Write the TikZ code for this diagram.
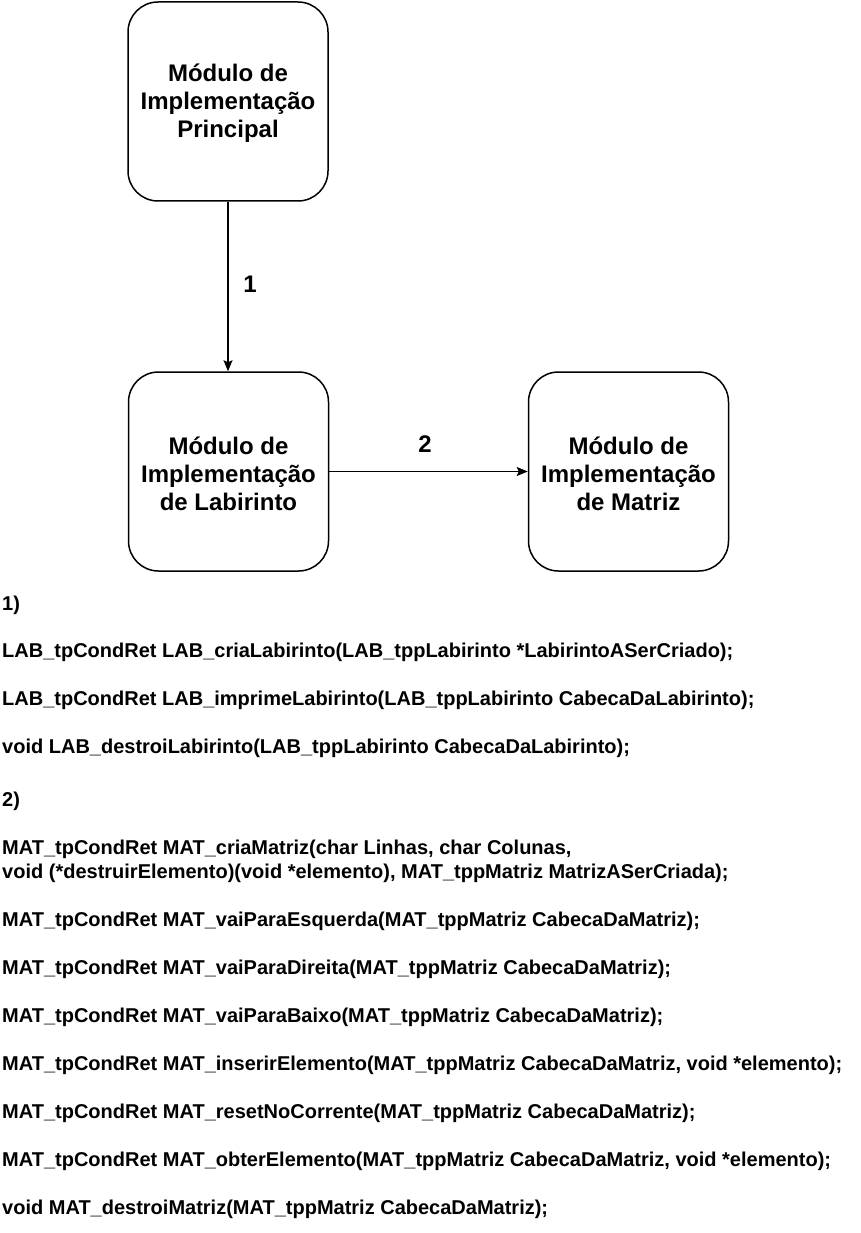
\documentclass[tikz,border=0pt]{standalone}
\usepackage{fontspec}
\setmainfont{Liberation Sans}
\usetikzlibrary{arrows.meta}
\begin{document}
\begin{tikzpicture}[x=1pt,y=-1pt,
  modbox/.style={draw=black, line width=1.5pt, rounded corners=30pt, minimum width=200pt, minimum height=199pt, inner sep=0pt},
  boxtext/.style={inner sep=0pt, align=center, font=\bfseries\fontsize{24}{28}\selectfont},
  conn/.style={line width=1.5pt, -{Stealth[length=11pt,width=9pt,inset=2pt]}},
  lbl/.style={font=\bfseries\fontsize{24}{28}\selectfont, inner sep=0pt},
  codeline/.style={anchor=base west, inner sep=0pt, font=\bfseries\fontsize{20}{24}\selectfont}
]
\useasboundingbox (0,0) rectangle (861,1233);
\node[modbox] (principal) at (228,101.5) {};
\node[modbox] (labirinto) at (228.5,471.5) {};
\node[modbox] (matriz) at (628.5,471.5) {};
\node[boxtext] (principaltxt) at ([yshift=-2pt]principal.center) {Módulo de\\Implementação\\Principal};
\node[boxtext] (labirintotxt) at ([yshift=-2pt]labirinto.center) {Módulo de\\Implementação\\de Labirinto};
\node[boxtext] (matriztxt) at ([yshift=-2pt]matriz.center) {Módulo de\\Implementação\\de Matriz};
\draw[conn] (principal.south) -- (principal.south |- labirinto.north);
\draw[conn] (labirinto.east) -- (matriz.west);
\node[lbl] (l1) at (250,284) {1};
\node[lbl] (l2) at (425,444) {2};

\node[codeline] (t1) at (2,610) {1)};
\node[codeline] (t2) at (2,657) {LAB\_tpCondRet LAB\_criaLabirinto(LAB\_tppLabirinto *LabirintoASerCriado);};
\node[codeline] (t3) at (2,705) {LAB\_tpCondRet LAB\_imprimeLabirinto(LAB\_tppLabirinto CabecaDaLabirinto);};
\node[codeline] (t4) at (2,753) {void LAB\_destroiLabirinto(LAB\_tppLabirinto CabecaDaLabirinto);};
\node[codeline] (t5) at (2,806) {2)};
\node[codeline] (t6) at (2,854) {MAT\_tpCondRet MAT\_criaMatriz(char Linhas, char Colunas,};
\node[codeline] (t7) at (2,878) {void (*destruirElemento)(void *elemento), MAT\_tppMatriz MatrizASerCriada);};
\node[codeline] (t8) at (2,926) {MAT\_tpCondRet MAT\_vaiParaEsquerda(MAT\_tppMatriz CabecaDaMatriz);};
\node[codeline] (t9) at (2,974) {MAT\_tpCondRet MAT\_vaiParaDireita(MAT\_tppMatriz CabecaDaMatriz);};
\node[codeline] (t10) at (2,1022) {MAT\_tpCondRet MAT\_vaiParaBaixo(MAT\_tppMatriz CabecaDaMatriz);};
\node[codeline] (t11) at (2,1070) {MAT\_tpCondRet MAT\_inserirElemento(MAT\_tppMatriz CabecaDaMatriz, void *elemento);};
\node[codeline] (t12) at (2,1118) {MAT\_tpCondRet MAT\_resetNoCorrente(MAT\_tppMatriz CabecaDaMatriz);};
\node[codeline] (t13) at (2,1166) {MAT\_tpCondRet MAT\_obterElemento(MAT\_tppMatriz CabecaDaMatriz, void *elemento);};
\node[codeline] (t14) at (2,1214) {void MAT\_destroiMatriz(MAT\_tppMatriz CabecaDaMatriz);};
\end{tikzpicture}
\end{document}
